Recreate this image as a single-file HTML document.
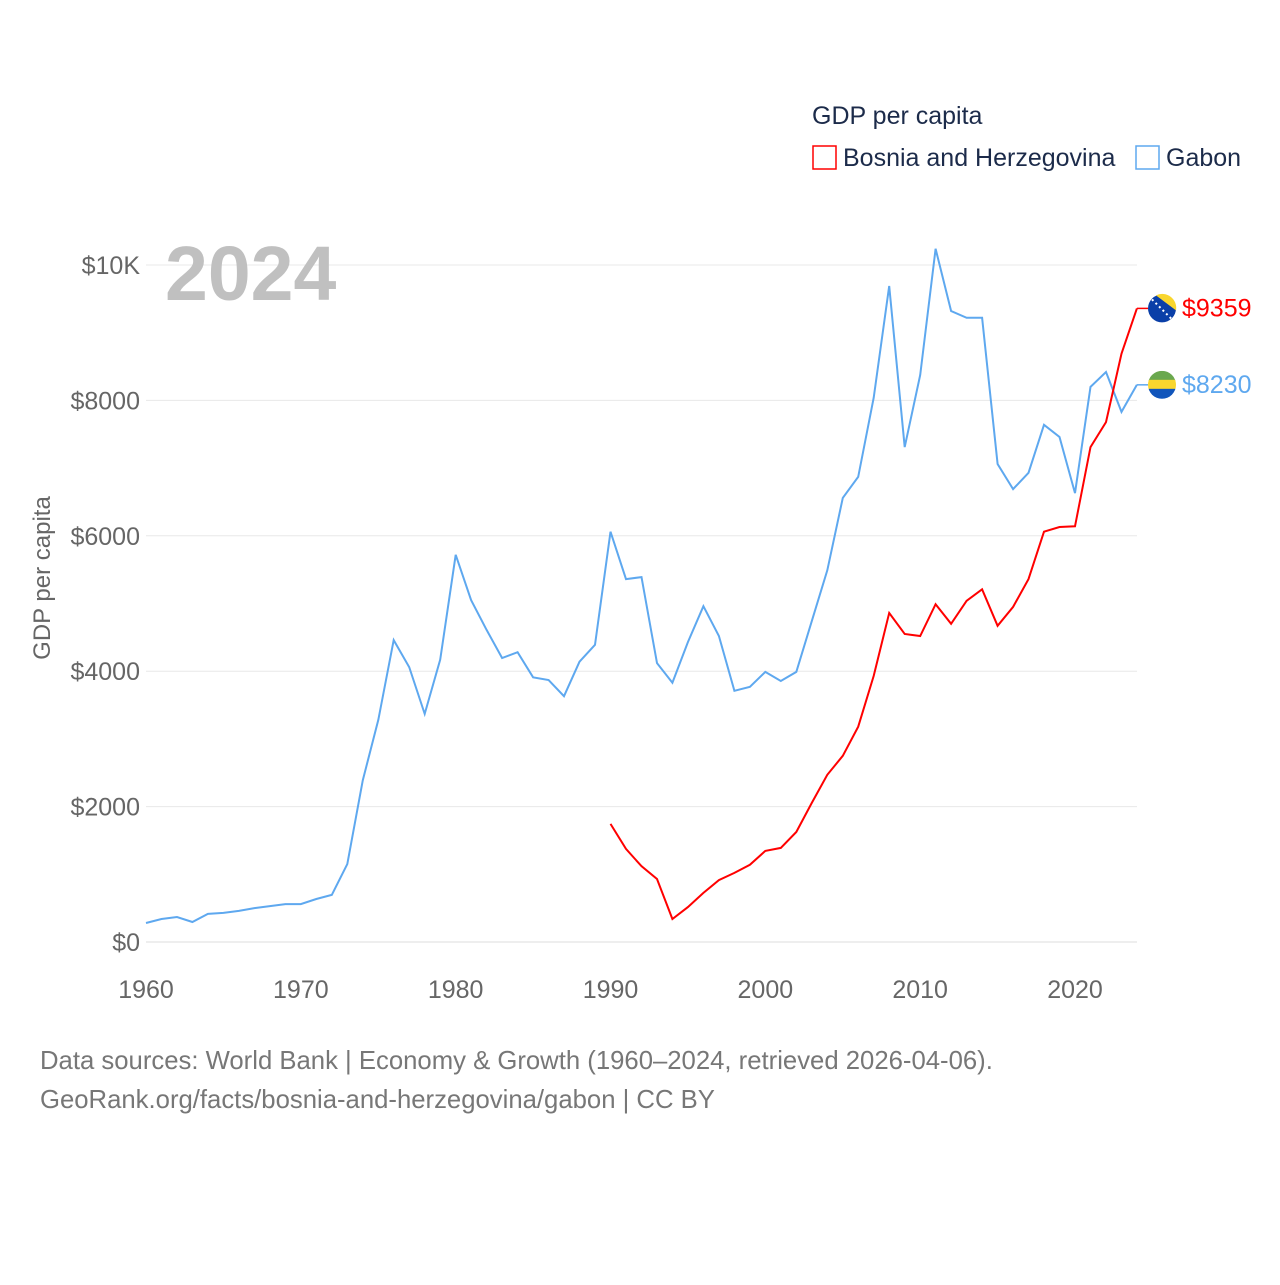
<!DOCTYPE html>
<html><head><meta charset="utf-8">
<style>
body{margin:0;background:#fff;font-family:"Liberation Sans",sans-serif;}
svg text{font-family:"Liberation Sans",sans-serif;}
</style></head>
<body>
<svg width="1280" height="1280" viewBox="0 0 1280 1280">
<g id="grid"></g>
<g id="yt"></g>
<g id="xt"></g>
<text x="165" y="300" font-size="77" font-weight="bold" fill="#c0c0c0">2024</text>
<text transform="translate(50,578) rotate(-90)" text-anchor="middle" font-size="24" fill="#666">GDP per capita</text>
<text x="812" y="124" font-size="25" fill="#1c2b4a">GDP per capita</text>
<g><rect x="813" y="146" width="23" height="23" fill="none" stroke="red" stroke-width="1.5"/><text x="843" y="166" font-size="25" fill="#1c2b4a">Bosnia and Herzegovina</text></g>
<g><rect x="1136" y="146" width="23" height="23" fill="none" stroke="#5ea8ef" stroke-width="1.5"/><text x="1166" y="166" font-size="25" fill="#1c2b4a">Gabon</text></g>
<path id="gab" fill="none" stroke="#5ea8ef" stroke-width="2"/>
<path id="bih" fill="none" stroke="red" stroke-width="2"/>
<g id="ends"></g>
<text x="40" y="1069" font-size="25.7" fill="#777">Data sources: World Bank | Economy &amp; Growth (1960–2024, retrieved 2026-04-06).</text>
<text x="40" y="1108" font-size="25.7" fill="#777">GeoRank.org/facts/bosnia-and-herzegovina/gabon | CC BY</text>
</svg>
<script>
const gabonYears=[1960,1961,1962,1963,1964,1965,1966,1967,1968,1969,1970,1971,1972,1973,1974,1975,1976,1977,1978,1979,1980,1981,1982,1983,1984,1985,1986,1987,1988,1989,1990,1991,1992,1993,1994,1995,1996,1997,1998,1999,2000,2001,2002,2003,2004,2005,2006,2007,2008,2009,2010,2011,2012,2013,2014,2015,2016,2017,2018,2019,2020,2021,2022,2023,2024];
const gabonValues=[280,340,370,295,415,430,460,500,530,560,560,635,695,1150,2390,3280,4460,4060,3370,4170,5720,5050,4610,4195,4280,3910,3870,3630,4140,4390,6060,5360,5390,4120,3830,4430,4960,4520,3710,3770,3990,3855,3990,4740,5490,6560,6870,8040,9690,7310,8375,10240,9320,9220,9220,7060,6690,6930,7640,7460,6630,8200,8420,7830,8230];
const bihYears=[1990,1991,1992,1993,1994,1995,1996,1997,1998,1999,2000,2001,2002,2003,2004,2005,2006,2007,2008,2009,2010,2011,2012,2013,2014,2015,2016,2017,2018,2019,2020,2021,2022,2023,2024];
const bihValues=[1745,1375,1120,930,340,515,725,915,1020,1140,1345,1390,1625,2055,2470,2750,3180,3930,4860,4550,4520,4990,4700,5040,5210,4670,4950,5360,6060,6130,6140,7310,7680,8690,9359];
const yTicks=[0,2000,4000,6000,8000,10000];
const yTickLabels=["$0","$2000","$4000","$6000","$8000","$10K"];
const xTicks=[1960,1970,1980,1990,2000,2010,2020];
const NS="http://www.w3.org/2000/svg";
const X=y=>146+(y-1960)*(1075-146)/60;
const Y=v=>942-v*(942-265)/10000;
function mk(tag,attrs,parent,txt){const e=document.createElementNS(NS,tag);for(const k in attrs)e.setAttribute(k,attrs[k]);if(txt!==undefined)e.textContent=txt;parent.appendChild(e);return e;}
const grid=document.getElementById('grid'),yt=document.getElementById('yt'),xt=document.getElementById('xt');
yTicks.forEach((t,i)=>{
 const l=mk('line',{x1:146,x2:1137,y1:Y(t),y2:Y(t),stroke:t===0?'#ddd':'#e8e8e8','stroke-width':1},grid);
 
 
 const tx=mk('text',{x:140,y:Y(t)+9,'text-anchor':'end','font-size':25,fill:'#666'},yt,yTickLabels[i]);
 
 
});
xTicks.forEach(t=>{
 const tx=mk('text',{x:X(t),y:998,'text-anchor':'middle','font-size':25,fill:'#666'},xt,String(t));
 
 
});
const path=(ys,vs)=>ys.map((y,i)=>(i?'L':'M')+X(y).toFixed(1)+','+Y(vs[i]).toFixed(1)).join('');
document.getElementById('gab').setAttribute('d',path(gabonYears,gabonValues));
document.getElementById('bih').setAttribute('d',path(bihYears,bihValues));
const ends=document.getElementById('ends');
function endLabel(v,color,name,flag){
 const y=Y(v),x0=X(2024);
 mk('line',{x1:x0,x2:1148,y1:y,y2:y,stroke:color,'stroke-width':1.5},ends);
 const g=mk('g',{},ends);
 
 
 flag(g,1162,y);
 const t=mk('text',{x:1182,y:y+8,'font-size':25,fill:color},ends,'$'+v);
 
 
}
endLabel(bihValues[bihValues.length-1],'red','bosnia',(g,cx,cy)=>{
 mk('circle',{cx,cy,r:14,fill:'#0a3fa8'},g);
 mk('path',{d:`M${cx-6},${cy-13} A14,14 0 0 1 ${cx+14},${cy+2} Z`,fill:'#f9d62e'},g);
 mk('line',{x1:cx-10,y1:cy-9,x2:cx+10,y2:cy+11,stroke:'#fff','stroke-width':2,'stroke-dasharray':'2 3'},g);
});
endLabel(gabonValues[gabonValues.length-1],'#5ea8ef','gabon',(g,cx,cy)=>{
 mk('clipPath',{id:'cg'},g).appendChild(document.createElementNS(NS,'circle'));
 const c=g.querySelector('clipPath circle');c.setAttribute('cx',cx);c.setAttribute('cy',cy);c.setAttribute('r',14);
 const gg=mk('g',{'clip-path':'url(#cg)'},g);
 mk('rect',{x:cx-14,y:cy-14,width:28,height:10,fill:'#6aa84f'},gg);
 mk('rect',{x:cx-14,y:cy-5,width:28,height:10,fill:'#f9d62e'},gg);
 mk('rect',{x:cx-14,y:cy+4,width:28,height:10,fill:'#1155bb'},gg);
});
</script>
</body></html>
